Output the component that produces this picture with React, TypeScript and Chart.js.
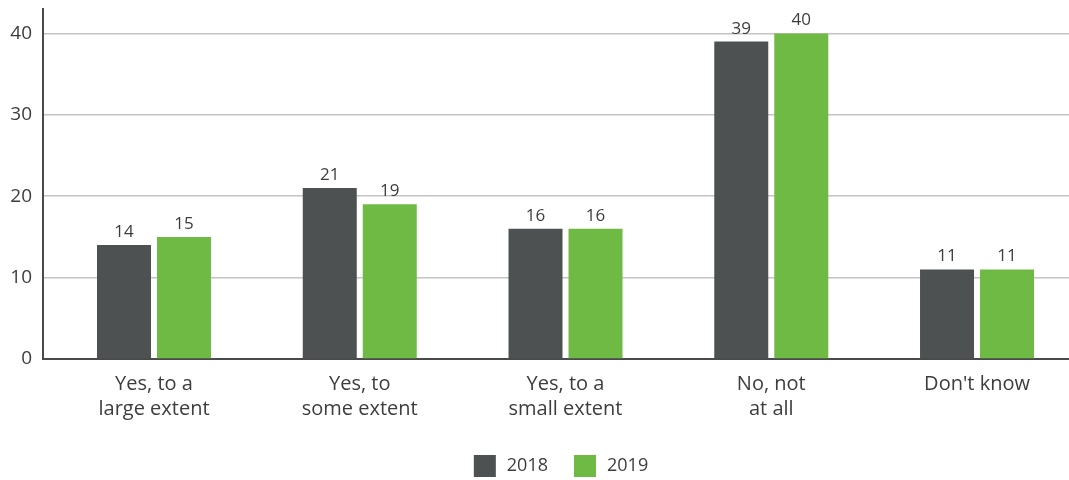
import React, { useEffect, useRef } from "react";
import { Chart, registerables } from "chart.js";

Chart.register(...registerables);

const categories: string[][] = [
  ["Yes, to a", "large extent"],
  ["Yes, to", "some extent"],
  ["Yes, to a", "small extent"],
  ["No, not", "at all"],
  ["Don't know"],
];
const seriesNames = ["2018", "2019"];
const values2018 = [14, 21, 16, 39, 11];
const values2019 = [15, 19, 16, 40, 11];
const yTicks = [0, 10, 20, 30, 40];

const COLORS = ["#4d5152", "#6fba44"];
const TEXT = "#3d3d3d";
const FONT = "'Open Sans', sans-serif";

const valueLabels = {
  id: "valueLabels",
  afterDatasetsDraw(chart: any) {
    const ctx = chart.ctx;
    ctx.save();
    ctx.font = `17px ${FONT}`;
    ctx.fillStyle = TEXT;
    ctx.textAlign = "center";
    ctx.textBaseline = "alphabetic";
    chart.data.datasets.forEach((ds: any, di: number) => {
      const meta = chart.getDatasetMeta(di);
      meta.data.forEach((el: any, i: number) => {
        ctx.fillText(String(ds.data[i].y), el.x, el.y - 8);
      });
    });
    ctx.restore();
  },
};

const customLegend = {
  id: "customLegend",
  afterDraw(chart: any) {
    const ctx = chart.ctx;
    ctx.save();
    ctx.font = `18px ${FONT}`;
    const box = 22;
    const gapText = 11;
    const gapItem = 26;
    const widths = seriesNames.map((n) => ctx.measureText(n).width);
    const total = widths.reduce((a, w) => a + box + gapText + w, 0) + gapItem * (seriesNames.length - 1);
    const cx = (chart.chartArea.left + chart.chartArea.right) / 2 + 5;
    let x = cx - total / 2;
    const cy = 466;
    seriesNames.forEach((n, i) => {
      ctx.fillStyle = COLORS[i];
      ctx.fillRect(x, cy - box / 2, box, box);
      x += box + gapText;
      ctx.fillStyle = TEXT;
      ctx.textAlign = "left";
      ctx.textBaseline = "middle";
      ctx.fillText(n, x, cy);
      x += widths[i] + gapItem;
    });
    ctx.restore();
  },
};

export default function App() {
  const ref = useRef<HTMLCanvasElement | null>(null);
  useEffect(() => {
    if (!ref.current) return;
    const chart = new Chart(ref.current, {
      type: "bar",
      data: {
        datasets: [
          {
            label: seriesNames[0],
            data: values2018.map((v, i) => ({ x: i, y: v })),
            backgroundColor: COLORS[0],
            borderWidth: 0,
          },
          {
            label: seriesNames[1],
            data: values2019.map((v, i) => ({ x: i, y: v })),
            backgroundColor: COLORS[1],
            borderWidth: 0,
          },
        ],
      },
      plugins: [valueLabels, customLegend],
      options: {
        animation: false,
        responsive: false,
        maintainAspectRatio: false,
        datasets: { bar: { categoryPercentage: 0.5832, barPercentage: 0.9 } },
        layout: { padding: { top: 9, left: 0, right: 0, bottom: 28 } },
        plugins: { legend: { display: false }, tooltip: { enabled: false } },
        scales: {
          x: {
            type: "linear",
            min: -0.5395,
            max: 4.447,
            offset: false,
            grid: { display: true, drawOnChartArea: false, drawTicks: false },
            border: { display: true, color: "#4a4a4a", width: 2 },
            afterBuildTicks: (scale: any) => {
              scale.ticks = categories.map((_, i) => ({ value: i }));
            },
            afterFit: (scale: any) => {
              scale.height = 93;
              scale.paddingLeft = 0;
              scale.paddingRight = 0;
            },
            ticks: {
              padding: 13,
              autoSkip: false,
              maxRotation: 0,
              color: TEXT,
              font: { family: FONT, size: 20, lineHeight: 25 / 20 },
              callback: (v: any) => categories[Math.round(Number(v))] ?? "",
            },
          },
          y: {
            min: 0,
            max: 43,
            afterBuildTicks: (scale: any) => {
              scale.ticks = yTicks.map((v) => ({ value: v }));
            },
            afterFit: (scale: any) => {
              scale.width = 43;
              scale.paddingTop = 0;
              scale.paddingBottom = 0;
            },
            grid: {
              drawTicks: false,
              color: (c: any) => (c.tick && c.tick.value === 0 ? "rgba(0,0,0,0)" : "#c4c4c4"),
              lineWidth: 1.5,
            },
            border: { display: true, color: "#4a4a4a", width: 2 },
            ticks: {
              padding: 11,
              color: TEXT,
              font: { family: FONT, size: 19 },
            },
          },
        },
      },
    });
    return () => chart.destroy();
  }, []);
  return (
    <div style={{ position: "absolute", left: 0, top: 0, width: 1069, height: 480 }}>
      <canvas ref={ref} width={1069} height={480} style={{ width: 1069, height: 480 }} />
    </div>
  );
}
